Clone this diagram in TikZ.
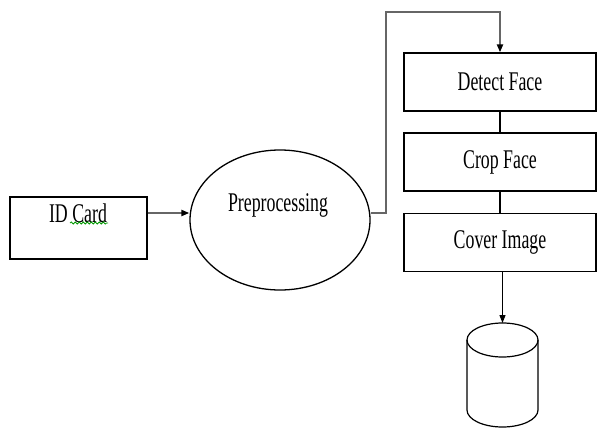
\documentclass[tikz,border=0pt]{standalone}
\usepackage{fontspec}
\setmainfont{Liberation Serif}[FakeStretch=0.66]
\usetikzlibrary{arrows.meta,decorations.pathmorphing,shapes.geometric}

\tikzset{
  block/.style={draw, line width=1.3pt, minimum width=192pt, minimum height=58pt, inner sep=0pt},
  flow/.style={draw=black!60, line width=2.8pt, -{Triangle[length=8pt,width=6pt,color=black]}},
  link/.style={draw, line width=1.2pt},
}

\begin{document}
\begin{tikzpicture}[x=1pt,y=-1pt,font=\fontsize{27}{30}\selectfont]
\useasboundingbox (0,0) rectangle (597,431);
% ID card and preprocessing
\node[draw, line width=1.3pt, minimum width=137pt, minimum height=62pt] (card) at (78.5,228) {};
\node (cardtext) at (78,213) {ID Card};
\draw[green!60!black, line width=0.8pt, decorate, decoration={snake, amplitude=1pt, segment length=4pt}] (70,223) -- (108,223);
\node[draw, line width=1.3pt, ellipse, minimum width=180pt, minimum height=140pt, inner sep=0pt] (prep) at (280,220) {};
\node (preptext) at (278,205) {Preprocessing};
\draw[flow] (card.east |- cardtext) -- (prep.west |- cardtext);
% face steps
\node[block] (detect) at (500,82) {Detect Face};
\node[block] (crop) at (500,162) {Crop Face};
\node[block] (cover) at (500,242.5) {Cover Image};
\draw[flow] (prep.east |- cardtext) -| (386,12) -| (detect.north);
\draw[link] (detect) -- (crop);
\draw[link] (crop) -- (cover);
% database
\coordinate (db) at (502.5,323);
\draw[line width=1.2pt] (502.5,340) ellipse [x radius=35.5, y radius=17];
\draw[line width=1.2pt] (467,340) -- (467,410) arc[start angle=180, end angle=0, x radius=35.5, y radius=17] -- (538,340);
\draw[link, -{Triangle[length=8pt,width=6pt]}] (cover.south -| db) -- (db);
\end{tikzpicture}
\end{document}
